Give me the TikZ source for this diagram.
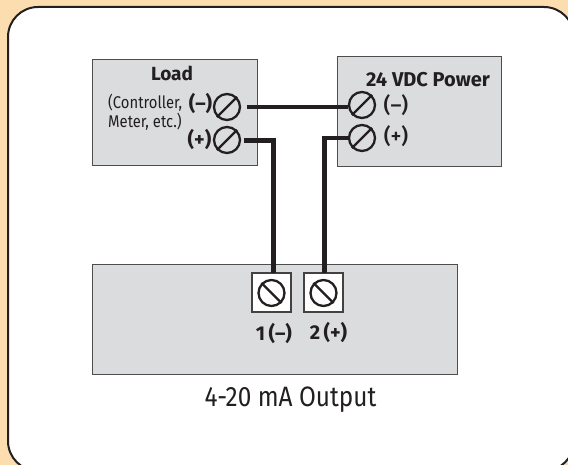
\documentclass[tikz,border=0pt]{standalone}
\usepackage{fontspec}
\setmainfont{Fira Sans}
\newfontfamily\narrowfont[FakeStretch=0.87]{Fira Sans}
\newfontfamily\mediumfont{Fira Sans Medium}
\usetikzlibrary{positioning}
\definecolor{panelbg}{HTML}{FCDDB0}
\definecolor{boxgrey}{HTML}{DBDCDE}
\definecolor{inkdark}{HTML}{231F20}
\tikzset{
	device/.style={draw=inkdark!80, line width=1.3pt, fill=boxgrey, rectangle, inner sep=0pt, anchor=north west},
	screw/.style={draw=inkdark, line width=2.3pt, circle, inner sep=0pt, minimum size=26pt},
	terminal/.style={draw=inkdark!85, line width=2pt, rectangle, inner sep=0pt, minimum size=39pt, fill=white},
	wire/.style={draw=inkdark, line width=4.8pt},
	slot/.style={draw=inkdark, line width=2.3pt},
	pinlabel/.style={inner sep=0pt, font=\fontsize{20}{24}\selectfont\bfseries, text=inkdark},
	powerlabel/.style={inner sep=0pt, font=\fontsize{21}{24}\selectfont\mediumfont, text=inkdark},
	title/.style={inner sep=0pt, font=\fontsize{19}{22}\selectfont\bfseries, text=inkdark},
	note/.style={inner sep=0pt, font=\fontsize{17}{19}\selectfont\narrowfont, text=inkdark, align=left},
}
\begin{document}
\begin{tikzpicture}[x=1pt, y=-1pt]
	\useasboundingbox (0,0) rectangle (568,465);
	\fill[panelbg] (0,0) rectangle (568,465);
	\node (panel) [draw=inkdark, line width=2pt, fill=white, rounded corners=30pt, minimum width=566pt, minimum height=464pt, anchor=north west, inner sep=0pt] at (7,6) {};

	\node (load) [device, minimum width=165pt, minimum height=106pt] at (92,59) {};
	\node (power) [device, minimum width=164pt, minimum height=110pt] at (337,56) {};
	\node (output) [device, minimum width=365pt, minimum height=110pt] at (92,264) {};

	\node (loadm) [screw] at (227,107) {};
	\node (loadp) [screw] at (227,140) {};
	\node (powerm) [screw] at (362,105) {};
	\node (powerp) [screw] at (362,138) {};
	\node (term1box) [terminal] at (271.5,293) {};
	\node (term2box) [terminal, right=11pt of term1box] {};
	\node (term1) [screw] at (term1box) {};
	\node (term2) [screw] at (term2box) {};

	% screw slots
	\draw[slot] (loadm.45) -- (loadm.225);
	\draw[slot] (loadp.45) -- (loadp.225);
	\draw[slot] (powerm.45) -- (powerm.225);
	\draw[slot] (powerp.45) -- (powerp.225);
	\draw[slot] (term1.135) -- (term1.315);
	\draw[slot] (term2.135) -- (term2.315);

	\coordinate (loadmend) at (247,107);
	\coordinate (loadpend) at (244,140.5);
	\coordinate (term1top) at (273.5,273);
	\coordinate (term2top) at (324.5,273);
	\draw[wire] (loadmend) -- (powerm.west |- loadmend);
	\draw[wire] (loadpend) -| (term1top);
	\draw[wire] (powerp.west) -| (term2top);

	\node (loadtitle) [title] at (172,73) {Load};
	\node (loadnote) [note, anchor=north west] at (108,94) {(Controller,\\Meter, etc.)};
	\node (loadmlabel) [pinlabel] at (200.5,104) {(–)};
	\node (loadplabel) [pinlabel] at (199.5,140) {(+)};
	\node (powertitle) [title, font=\fontsize{20}{22}\selectfont\bfseries] at (428,80) {24 VDC Power};
	\node (powermlabel) [powerlabel] at (396,105) {(–)};
	\node (powerplabel) [powerlabel] at (396,136) {(+)};
	\node (term1label) [pinlabel] at (274,333) {1\,(–)};
	\node (term2label) [pinlabel] at (328.5,332) {2\,(+)};
	\node (outputlabel) [inner sep=0pt, font=\fontsize{28}{32}\selectfont\narrowfont, text=inkdark] at (290.5,400) {4-20 mA Output};
\end{tikzpicture}
\end{document}
